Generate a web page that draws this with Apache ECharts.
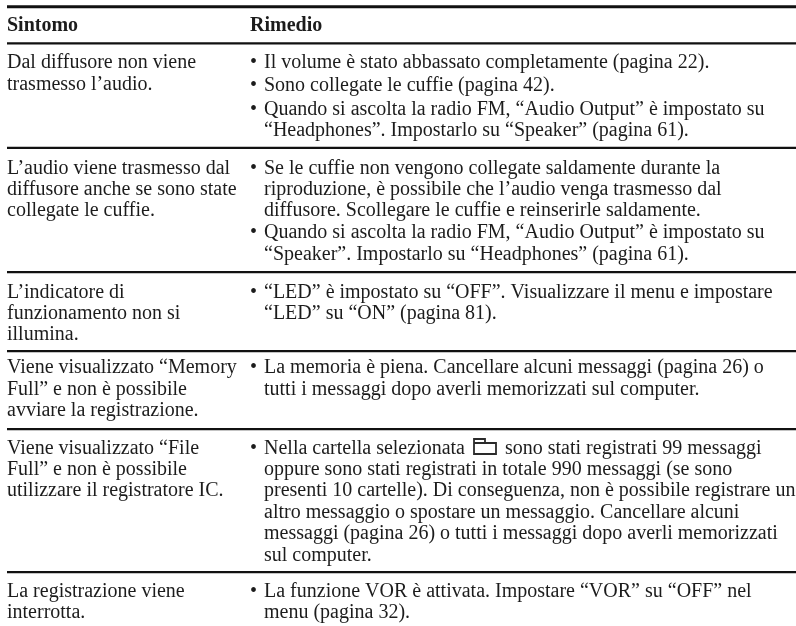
<!DOCTYPE html>
<html>
<head>
<meta charset="utf-8">
<style>html,body{margin:0;padding:0;background:#fff}#chart{width:796px;height:626px}</style>
<script src="https://cdn.jsdelivr.net/npm/echarts@6/dist/echarts.min.js"></script>
</head>
<body>
<div id="chart"></div>
<script>
const headers = ['Sintomo', 'Rimedio']

const symptoms = [
  ['Dal diffusore non viene', 'trasmesso l’audio.'],
  ['L’audio viene trasmesso dal', 'diffusore anche se sono state', 'collegate le cuffie.'],
  ['L’indicatore di', 'funzionamento non si', 'illumina.'],
  ['Viene visualizzato “Memory', 'Full” e non è possibile', 'avviare la registrazione.'],
  ['Viene visualizzato “File', 'Full” e non è possibile', 'utilizzare il registratore IC.'],
  ['La registrazione viene', 'interrotta.']
]

// one entry per row, each bullet is a list of lines
const remedies = [
  [
    ['Il volume è stato abbassato completamente (pagina 22).'],
    ['Sono collegate le cuffie (pagina 42).'],
    ['Quando si ascolta la radio FM, “Audio Output” è impostato su', '“Headphones”. Impostarlo su “Speaker” (pagina 61).']
  ],
  [
    ['Se le cuffie non vengono collegate saldamente durante la', 'riproduzione, è possibile che l’audio venga trasmesso dal', 'diffusore. Scollegare le cuffie e reinserirle saldamente.'],
    ['Quando si ascolta la radio FM, “Audio Output” è impostato su', '“Speaker”. Impostarlo su “Headphones” (pagina 61).']
  ],
  [
    ['“LED” è impostato su “OFF”. Visualizzare il menu e impostare', '“LED” su “ON” (pagina 81).']
  ],
  [
    ['La memoria è piena. Cancellare alcuni messaggi (pagina 26) o', 'tutti i messaggi dopo averli memorizzati sul computer.']
  ],
  [
    ['Nella cartella selezionata', 'oppure sono stati registrati in totale 990 messaggi (se sono', 'presenti 10 cartelle). Di conseguenza, non è possibile registrare un', 'altro messaggio o spostare un messaggio. Cancellare alcuni', 'messaggi (pagina 26) o tutti i messaggi dopo averli memorizzati', 'sul computer.']
  ],
  [
    ['La funzione VOR è attivata. Impostare “VOR” su “OFF” nel', 'menu (pagina 32).']
  ]
]

const afterIcon = 'sono stati registrati 99 messaggi'

// layout, in page pixels
const rowBaselines = [67.5, 173, 297, 372.5, 453, 596]
const bulletGaps = [1.8, 0.6, 0, 0, 0, 0]
const leftX = 7
const bulletX = 250
const textX = 264
const lineH = 21.4
const font = '"Liberation Serif", "Times New Roman", serif'
const fontSize = 20
const ink = '#1c1c1c'

const rules = [[5.2, 3], [42.2, 2.2], [146.8, 2.2], [271, 2.2], [350, 2.2], [428, 2.2], [571, 2.2]]

const textData = []
headers.forEach((h, i) => textData.push([i ? bulletX : leftX, 30, h, 'bold']))
symptoms.forEach((lines, r) => {
  lines.forEach((l, i) => textData.push([leftX, rowBaselines[r] + i * lineH, l, 'normal']))
})
remedies.forEach((bullets, r) => {
  let y = rowBaselines[r]
  bullets.forEach(lines => {
    textData.push([bulletX, y, '•', 'normal'])
    lines.forEach(l => {
      textData.push([textX, y, l, 'normal'])
      y += lineH
    })
    y += bulletGaps[r]
  })
})
textData.push([505, rowBaselines[4], afterIcon, 'normal'])

const chart = echarts.init(document.getElementById('chart'))
chart.setOption({
  animation: false,
  backgroundColor: '#fff',
  grid: { left: 0, right: 0, top: 0, bottom: 0 },
  xAxis: { type: 'value', min: 0, max: 796, show: false },
  yAxis: { type: 'value', min: 0, max: 626, inverse: true, show: false },
  series: [
    {
      type: 'custom',
      name: 'rules',
      silent: true,
      data: rules,
      renderItem: (params, api) => {
        const a = api.coord([leftX, api.value(0)])
        const b = api.coord([796, api.value(0) + api.value(1)])
        return { type: 'rect', shape: { x: a[0], y: a[1], width: b[0] - a[0], height: b[1] - a[1] }, style: { fill: '#111' } }
      }
    },
    {
      type: 'custom',
      name: 'cells',
      silent: true,
      data: textData.map(d => [d[0], d[1]]),
      renderItem: (params, api) => {
        const p = api.coord([api.value(0), api.value(1)])
        const d = textData[params.dataIndex]
        return {
          type: 'text',
          style: {
            x: p[0], y: p[1] - 4.6,
            text: d[2],
            fill: ink,
            fontFamily: font,
            fontSize: fontSize,
            fontWeight: d[3],
            textAlign: 'left',
            textVerticalAlign: 'middle'
          }
        }
      }
    },
    {
      // folder icon inside the first line of row 5
      type: 'custom',
      name: 'folder',
      silent: true,
      data: [[474, 439]],
      renderItem: (params, api) => {
        const p = api.coord([api.value(0), api.value(1)])
        return {
          type: 'polyline',
          x: p[0], y: p[1],
          shape: { points: [[0, 4], [0, 15], [22, 15], [22, 4], [0, 4], [0, 0], [11, 0], [11, 4]] },
          style: { fill: null, stroke: '#2a2a2a', lineWidth: 1.8 }
        }
      }
    }
  ]
})
</script>
</body>
</html>
